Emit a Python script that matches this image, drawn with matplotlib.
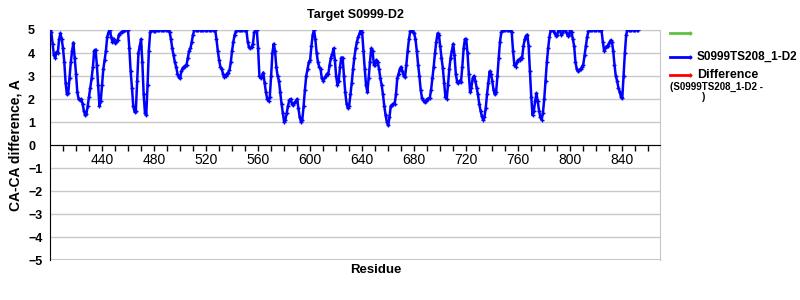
import matplotlib
matplotlib.use("Agg")
import matplotlib.pyplot as plt
import numpy as np
from matplotlib.lines import Line2D

title = "Target S0999-D2"
series_name = "S0999TS208_1-D2"
first_residue = 400

# CA-CA difference per residue (residues 400..852)
ca_diff = [
    5.0, 4.9, 4.4, 3.9, 3.8, 4.05, 4.0, 4.6, 4.85, 4.6,
    4.2, 3.6, 2.7, 2.2, 2.25, 2.9, 3.6, 4.1, 4.45, 3.8,
    3.1, 2.3, 2.0, 1.95, 2.0, 1.8, 1.5, 1.3, 1.35, 1.7,
    2.1, 2.5, 2.9, 3.4, 4.1, 4.15, 3.5, 2.6, 1.7, 1.9,
    2.6, 3.3, 3.7, 4.1, 4.7, 4.9, 5.0, 4.7, 4.5, 4.6,
    4.45, 4.5, 4.55, 4.8, 4.85, 4.9, 4.95, 5.0, 5.0, 5.0,
    5.0, 4.2, 3.2, 2.5, 1.7, 1.45, 1.5, 2.8, 4.0, 4.3,
    4.6, 3.6, 2.2, 1.4, 1.3, 2.6, 4.1, 4.9, 5.0, 5.0,
    4.95, 4.95, 5.0, 5.0, 5.0, 5.0, 5.0, 5.0, 5.0, 5.0,
    5.0, 5.0, 4.9, 4.6, 4.2, 3.9, 3.6, 3.4, 3.1, 2.95,
    2.9, 3.2, 3.35, 3.4, 3.45, 3.5, 3.8, 4.1, 4.2, 4.5,
    4.8, 5.0, 5.0, 5.0, 5.0, 5.0, 5.0, 5.0, 5.0, 5.0,
    5.0, 5.0, 5.0, 5.0, 5.0, 5.0, 5.0, 5.0, 4.6, 4.1,
    3.7, 3.4, 3.3, 3.1, 2.95, 3.0, 3.1, 3.15, 3.25, 3.6,
    4.1, 4.5, 4.8, 4.95, 5.0, 5.0, 5.0, 5.0, 5.0, 5.0,
    5.0, 5.0, 4.5, 4.25, 4.2, 4.25, 4.4, 4.9, 5.0, 5.0,
    4.2, 3.0, 2.9, 3.0, 3.15, 2.7, 2.3, 2.0, 1.9, 2.1,
    3.0, 4.0, 4.4, 4.1, 3.4, 3.0, 2.8, 2.3, 1.8, 1.4,
    1.0, 1.1, 1.4, 1.7, 1.95, 2.0, 1.8, 1.75, 1.85, 1.9,
    2.0, 1.6, 1.2, 1.0, 1.1, 1.7, 2.4, 3.0, 3.3, 3.6,
    3.7, 4.3, 4.8, 5.0, 4.6, 4.0, 3.6, 3.4, 3.3, 2.9,
    2.8, 2.9, 3.0, 3.1, 3.1, 3.5, 3.8, 3.95, 4.2, 3.7,
    3.0, 2.6, 2.8, 3.4, 3.8, 3.8, 3.0, 2.3, 1.8, 1.6,
    1.7, 2.2, 2.7, 3.3, 3.8, 4.2, 4.5, 4.7, 4.85, 5.0,
    4.9, 4.1, 3.3, 2.6, 2.3, 2.9, 3.6, 4.2, 4.1, 3.5,
    3.5, 3.7, 3.6, 3.3, 2.9, 2.6, 2.2, 1.7, 1.3, 1.0,
    0.85, 1.2, 1.7, 1.75, 1.8, 1.8, 2.2, 2.9, 3.1, 3.3,
    3.4, 3.2, 3.0, 2.95, 3.5, 4.1, 4.6, 4.95, 5.0, 4.9,
    4.85, 4.6, 4.1, 3.5, 3.0, 2.4, 2.05, 1.95, 1.85, 1.9,
    2.0, 2.0, 2.05, 2.4, 2.9, 3.4, 4.0, 4.5, 4.85, 4.8,
    4.3, 3.8, 3.35, 2.7, 2.1, 2.0, 2.6, 3.3, 3.8, 4.1,
    4.4, 3.9, 3.1, 2.75, 2.7, 2.8, 2.75, 3.4, 4.2, 4.6,
    4.6, 4.0, 3.1, 2.3, 2.5, 2.9, 3.0, 2.8, 2.5, 2.2,
    1.8, 1.5, 1.25, 1.1, 1.2, 1.6, 2.2, 2.7, 3.2, 3.1,
    2.8, 2.4, 2.2, 2.3, 3.0, 3.8, 4.5, 4.9, 5.0, 5.0,
    5.0, 5.0, 5.0, 5.0, 5.0, 4.9, 4.1, 3.5, 3.4, 3.6,
    3.7, 3.7, 3.8, 3.8, 4.3, 4.6, 4.75, 4.8, 4.3, 3.2,
    2.1, 1.3, 1.5, 1.9, 2.25, 1.9, 1.5, 1.2, 1.1, 1.4,
    2.0, 2.8, 3.6, 4.2, 4.7, 5.0, 5.0, 5.0, 4.85, 4.75,
    4.8, 5.0, 5.0, 4.8, 4.85, 5.0, 5.0, 4.9, 4.75, 4.8,
    5.0, 4.9, 4.6, 4.3, 3.6, 3.3, 3.2, 3.25, 3.3, 3.4,
    3.5, 3.9, 4.3, 4.7, 4.95, 5.0, 5.0, 5.0, 5.0, 5.0,
    5.0, 5.0, 5.0, 5.0, 5.0, 4.5, 4.1, 4.2, 4.3, 4.3,
    4.45, 4.55, 4.5, 4.1, 3.5, 3.0, 2.8, 2.5, 2.3, 2.1,
    2.05, 3.0, 4.0, 4.8, 5.0, 5.0, 5.0, 5.0, 5.0, 5.0,
    5.0, 5.0, 5.0,
]
residues = np.arange(first_residue, first_residue + len(ca_diff))

x_labels = [440, 480, 520, 560, 600, 640, 680, 720, 760, 800, 840]
y_ticks = [-5, -4, -3, -2, -1, 0, 1, 2, 3, 4, 5]

plt.rcParams["font.family"] = ["Liberation Sans", "DejaVu Sans"]
grid_col = "#c8c8c8"
fs = 9

fig = plt.figure(figsize=(8, 3), dpi=100)
ax = fig.add_axes([0.0625, 0.1333, 0.7625, 0.7667])

ax.plot(residues, ca_diff, color="#0000ff", linewidth=1.8,
        marker="+", markersize=3, markeredgewidth=1, zorder=3)

ax.set_xlim(400, 869)
ax.set_ylim(-5, 5)
ax.set_yticks(y_ticks)
ax.set_yticklabels([str(v).replace("-", "\u2212") for v in y_ticks],
                   fontsize=fs, fontweight="bold", ha="left")
ax.tick_params(axis="y", length=0, pad=15.8)
ax.grid(axis="y", color=grid_col, linewidth=1)
ax.set_axisbelow(True)

ax.set_xticks(x_labels)
ax.set_xticklabels([str(v) for v in x_labels], fontsize=fs, fontweight="bold")
ax.set_xticks(np.arange(410, 869, 10), minor=True)
ax.tick_params(axis="x", which="both", direction="out", length=4,
               width=1, color="black", pad=2)

ax.spines["bottom"].set_position(("data", 0))
ax.spines["bottom"].set_color("black")
ax.spines["left"].set_color("black")
ax.spines["top"].set_color(grid_col)
ax.spines["right"].set_color(grid_col)
ax.axhline(-5, color=grid_col, linewidth=1.5, zorder=0)

fig.text(0.444, 0.95, title, ha="center", va="center",
         fontsize=fs, fontweight="bold")
fig.text(0.47, 0.1, "Residue", ha="center", va="center",
         fontsize=9.5, fontweight="bold")
fig.text(0.019, 0.517, "CA-CA difference, A", ha="center", va="center",
         rotation=90, fontsize=10, fontweight="bold")

# legend drawn by hand, placed like the reference
for y, col in [(0.89, "#60c040"), (0.81, "#0000ff"), (0.75, "#ff0000")]:
    fig.add_artist(Line2D([0.8375, 0.8625], [y, y], color=col, linewidth=2,
                          marker="+", markersize=3, markevery=[1],
                          transform=fig.transFigure))
fig.text(0.871, 0.812, series_name, ha="left", va="center",
         fontsize=8.5, fontweight="bold")
fig.text(0.871, 0.74, "Difference", ha="left", va="baseline",
         fontsize=9, fontweight="bold")
fig.text(0.8375, 0.728, "(" + series_name + " -", ha="left", va="top",
         fontsize=7, fontweight="bold")
fig.text(0.877, 0.675, ")", ha="left", va="center",
         fontsize=7, fontweight="bold")

fig.savefig("out.png", dpi=100)
